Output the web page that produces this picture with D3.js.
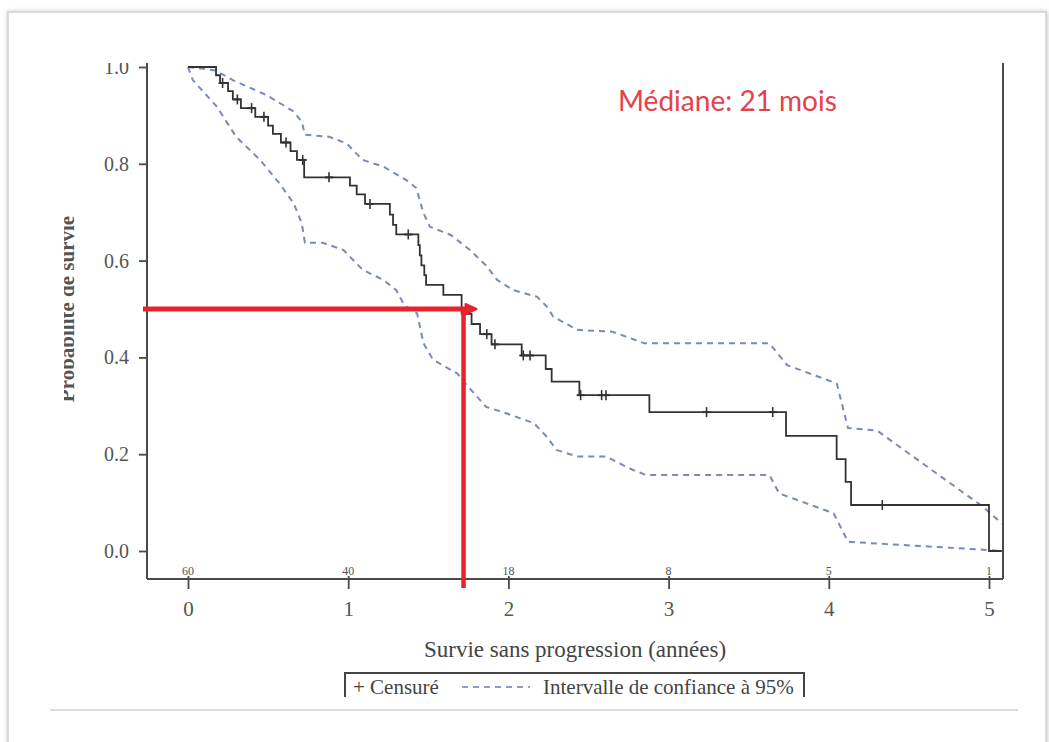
<!DOCTYPE html>
<html><head><meta charset="utf-8">
<script src="https://cdn.jsdelivr.net/npm/d3@7"></script>
<style>
html,body{margin:0;padding:0;background:#fff;}
svg{display:block;}
</style></head>
<body>
<script>
// ---------- DATA ----------
const xTickYears = [0, 1, 2, 3, 4, 5];
const atRisk = [60, 40, 18, 8, 5, 1];
const yTicks = [0.0, 0.2, 0.4, 0.6, 0.8, 1.0];

const kmTime = [0, 0.175, 0.20, 0.25, 0.28, 0.33, 0.42, 0.50, 0.53, 0.58, 0.64, 0.68, 0.725,
  1.011, 1.053, 1.105, 1.26, 1.28, 1.30, 1.438, 1.447, 1.457, 1.475, 1.486, 1.594, 1.708,
  1.77, 1.823, 1.895, 2.083, 2.233, 2.27, 2.443, 2.88, 3.733, 4.049, 4.105, 4.139, 5.0, 5.08];
const kmSurv = [1.0, 0.983, 0.967, 0.950, 0.933, 0.915, 0.897, 0.879, 0.862, 0.844, 0.826, 0.808, 0.772,
  0.755, 0.737, 0.717, 0.695, 0.674, 0.654, 0.632, 0.611, 0.590, 0.570, 0.550, 0.529, 0.490,
  0.469, 0.448, 0.427, 0.404, 0.376, 0.350, 0.322, 0.287, 0.238, 0.190, 0.143, 0.095, 0.0, 0.0];

const censorTime = [0.216, 0.308, 0.397, 0.474, 0.612, 0.716, 0.88, 1.136, 1.375, 1.865, 1.916,
  2.093, 2.135, 2.451, 2.582, 2.609, 3.237, 3.65, 4.334];
const censorSurv = [0.967, 0.933, 0.915, 0.897, 0.844, 0.808, 0.772, 0.717, 0.654, 0.448, 0.427,
  0.404, 0.404, 0.322, 0.322, 0.322, 0.287, 0.287, 0.095];

const ciUpperTime = [0, 0.17, 0.28, 0.49, 0.66, 0.71, 0.73, 0.88, 0.99, 1.09, 1.22, 1.36, 1.425, 1.47,
  1.51, 1.64, 1.76, 1.86, 1.93, 2.03, 2.18, 2.24, 2.28, 2.43, 2.65, 2.85, 3.63, 3.74, 4.05, 4.12,
  4.30, 4.96, 5.08];
const ciUpperVal = [1.0, 0.993, 0.973, 0.942, 0.908, 0.887, 0.860, 0.856, 0.842, 0.808, 0.794, 0.767,
  0.750, 0.698, 0.670, 0.653, 0.622, 0.590, 0.560, 0.539, 0.525, 0.505, 0.484, 0.457, 0.453, 0.429,
  0.429, 0.384, 0.346, 0.254, 0.249, 0.092, 0.057];

const ciLowerTime = [0, 0.03, 0.18, 0.30, 0.45, 0.57, 0.66, 0.71, 0.73, 0.84, 0.97, 1.09, 1.22, 1.30,
  1.35, 1.43, 1.47, 1.53, 1.68, 1.75, 1.86, 1.99, 2.16, 2.24, 2.30, 2.43, 2.61, 2.78, 2.86, 3.63,
  3.69, 4.03, 4.12, 5.0, 5.08];
const ciLowerVal = [1.0, 0.973, 0.918, 0.856, 0.808, 0.760, 0.718, 0.677, 0.637, 0.637, 0.622, 0.581,
  0.560, 0.539, 0.508, 0.491, 0.429, 0.395, 0.367, 0.339, 0.298, 0.284, 0.264, 0.236, 0.209, 0.195,
  0.195, 0.167, 0.157, 0.157, 0.119, 0.078, 0.019, 0.002, 0.0];

const medianYears = 1.72;
const medianSurv = 0.5;
const medianLabel = "Médiane: 21 mois";
const xTitle = "Survie sans progression (années)";
const yTitle = "Probabilité de survie";
const legendCensor = "Censuré";
const legendCI = "Intervalle de confiance à 95%";

// ---------- LAYOUT ----------
const W = 1049, H = 742;
const svg = d3.select("body").append("svg").attr("width", W).attr("height", H);
const serif = "'Liberation Serif','Times New Roman',serif";
const axisCol = "#4a4a4a";
const ciCol = "#6a7db3";
const redCol = "#e8232c";

const defs = svg.append("defs");
const f = defs.append("filter").attr("id", "sh").attr("x", "-5%").attr("y", "-5%").attr("width", "110%").attr("height", "110%");
f.append("feGaussianBlur").attr("stdDeviation", 2);
defs.append("clipPath").attr("id", "crop").append("rect")
  .attr("x", 64).attr("y", 63).attr("width", 983).attr("height", 634);

// page frame with soft shadow
svg.append("rect").attr("x", 9).attr("y", 13).attr("width", 1037).attr("height", 760)
  .attr("fill", "none").attr("stroke", "#bdbdbd").attr("stroke-width", 3).attr("filter", "url(#sh)");
svg.append("rect").attr("x", 8).attr("y", 12).attr("width", 1038).attr("height", 760)
  .attr("fill", "#fff").attr("stroke", "#d2d2d2").attr("stroke-width", 1.5);

// separator line
svg.append("line").attr("x1", 50).attr("x2", 1018).attr("y1", 710).attr("y2", 710)
  .attr("stroke", "#dcdcdc").attr("stroke-width", 2);

const x = d3.scaleLinear().domain([0, 5]).range([188, 989]);
const y = d3.scaleLinear().domain([0, 1]).range([551, 67]);
const xLeft = x.invert(147), xRight = x.invert(1003);
const yBottom = y.invert(579), yTop = y.invert(62);

const g = svg.append("g").attr("clip-path", "url(#crop)");

// Y axis
const yAxis = d3.axisLeft(y).tickValues(yTicks).tickFormat(d3.format(".1f")).tickSize(8).tickSizeOuter(0);
const gy = g.append("g").attr("transform", "translate(147,0)").call(yAxis);
gy.select(".domain").remove();
gy.selectAll(".tick line").attr("stroke", axisCol).attr("stroke-width", 1.8);
gy.selectAll(".tick text").attr("font-family", serif).attr("font-size", 20).attr("fill", "#555").attr("x", -18);
g.append("line").attr("x1", 147).attr("x2", 147).attr("y1", y(yTop)).attr("y2", y(yBottom))
  .attr("stroke", axisCol).attr("stroke-width", 2);

// X axis
const xAxis = d3.axisBottom(x).tickValues(xTickYears).tickFormat(d3.format("d")).tickSize(10).tickSizeOuter(0);
const gx = g.append("g").attr("transform", "translate(0,579)").call(xAxis);
gx.select(".domain").remove();
gx.selectAll(".tick line").attr("stroke", axisCol).attr("stroke-width", 1.8).attr("y1", -3);
gx.selectAll(".tick text").attr("font-family", serif).attr("font-size", 21).attr("fill", "#555").attr("y", 16).attr("dy", "1em");
g.append("line").attr("x1", x(xLeft)).attr("x2", x(xRight)).attr("y1", 579).attr("y2", 579)
  .attr("stroke", axisCol).attr("stroke-width", 2.2);
// right border
g.append("line").attr("x1", x(xRight)).attr("x2", x(xRight)).attr("y1", 62).attr("y2", 579)
  .attr("stroke", axisCol).attr("stroke-width", 2);

// numbers at risk
g.selectAll(".risk").data(xTickYears).enter().append("text")
  .attr("x", d => x(d)).attr("y", 575).attr("text-anchor", "middle")
  .attr("font-family", serif).attr("font-size", 12).attr("fill", "#555")
  .text((d, i) => atRisk[i]);

// axis titles
g.append("text").attr("x", 575).attr("y", 657).attr("text-anchor", "middle")
  .attr("font-family", serif).attr("font-size", 23).attr("fill", "#444").text(xTitle);
g.append("text").attr("transform", "translate(74,309) rotate(-90)").attr("text-anchor", "middle")
  .attr("font-family", serif).attr("font-size", 21).attr("font-weight", "bold").attr("fill", "#555").text(yTitle);

// CI lines
const ciLine = d3.line().x(d => x(d[0])).y(d => y(d[1]));
[[ciUpperTime, ciUpperVal], [ciLowerTime, ciLowerVal]].forEach(([t, v]) => {
  g.append("path").datum(t.map((d, i) => [d, v[i]]))
    .attr("d", ciLine).attr("fill", "none").attr("stroke", ciCol)
    .attr("stroke-width", 2).attr("stroke-dasharray", "6,5").attr("opacity", 0.9);
});

// KM step curve
const kmLine = d3.line().x(d => x(d[0])).y(d => y(d[1])).curve(d3.curveStepAfter);
g.append("path").datum(kmTime.map((d, i) => [d, kmSurv[i]]))
  .attr("d", kmLine).attr("fill", "none").attr("stroke", "#333").attr("stroke-width", 1.8);

// censor marks
const cg = g.selectAll(".cens").data(censorTime.map((d, i) => [d, censorSurv[i]])).enter().append("g")
  .attr("transform", d => `translate(${x(d[0])},${y(d[1])})`);
cg.append("line").attr("x1", 0).attr("x2", 0).attr("y1", -5).attr("y2", 5).attr("stroke", "#333").attr("stroke-width", 1.6);
cg.append("line").attr("x1", -4).attr("x2", 4).attr("y1", 0).attr("y2", 0).attr("stroke", "#333").attr("stroke-width", 2);

// legend (bottom cut by crop)
const lg = g.append("g");
lg.append("path").attr("d", "M345,700 V673 H804 V700").attr("fill", "none").attr("stroke", "#444").attr("stroke-width", 2);
lg.append("text").attr("x", 353).attr("y", 694).attr("font-family", serif).attr("font-size", 21).attr("fill", "#444").text("+ " + legendCensor);
lg.append("line").attr("x1", 462).attr("x2", 530).attr("y1", 687).attr("y2", 687)
  .attr("stroke", ciCol).attr("stroke-width", 1.3).attr("stroke-dasharray", "6,5");
lg.append("text").attr("x", 543).attr("y", 694).attr("font-family", serif).attr("font-size", 21).attr("fill", "#444").text(legendCI);

// red median annotation
svg.append("line").attr("x1", x(xLeft) - 4).attr("x2", x(medianYears) + 5).attr("y1", y(medianSurv)).attr("y2", y(medianSurv))
  .attr("stroke", redCol).attr("stroke-width", 5);
svg.append("path")
  .attr("d", `M${x(medianYears) + 2},${y(medianSurv) - 5} L${x(medianYears) + 13},${y(medianSurv)} L${x(medianYears) + 2},${y(medianSurv) + 5} Z`)
  .attr("fill", redCol).attr("stroke", redCol).attr("stroke-width", 2).attr("stroke-linejoin", "round");
svg.append("line").attr("x1", x(medianYears)).attr("x2", x(medianYears)).attr("y1", y(medianSurv) - 2).attr("y2", 588)
  .attr("stroke", redCol).attr("stroke-width", 4.5);

const mt = svg.append("text").attr("x", 618).attr("y", 111).attr("font-family", "Lato,'Open Sans',sans-serif")
  .attr("font-size", 27).attr("fill", "#e5414b").text(medianLabel);
const len = mt.node().getComputedTextLength();
mt.attr("font-size", 27 * 219 / len);
</script>
</body></html>
